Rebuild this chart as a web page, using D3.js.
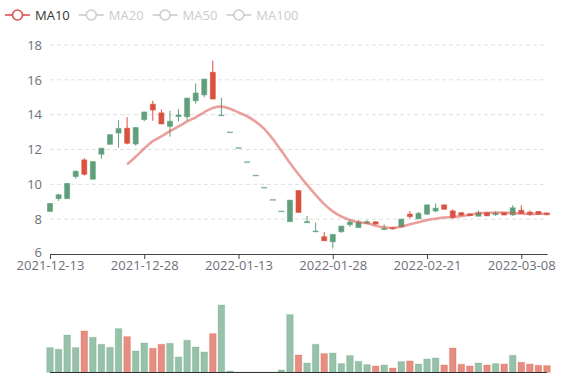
<!DOCTYPE html>
<html><head><meta charset="utf-8">
<script src="https://cdn.jsdelivr.net/npm/d3@7/dist/d3.min.js"></script>
<style>body{margin:0;background:#fff} svg{display:block;font-family:'Open Sans',sans-serif}</style>
</head><body><svg id="c" width="577" height="380"></svg>
<script>
const dates = [
  "2021-12-13","2021-12-14","2021-12-15","2021-12-16","2021-12-17","2021-12-20","2021-12-21","2021-12-22","2021-12-23","2021-12-24","2021-12-27","2021-12-28",
  "2021-12-29","2021-12-30","2021-12-31","2022-01-04","2022-01-05","2022-01-06","2022-01-07","2022-01-10","2022-01-11","2022-01-12","2022-01-13",
  "2022-01-14","2022-01-17","2022-01-18","2022-01-19","2022-01-20","2022-01-21","2022-01-24","2022-01-25","2022-01-26","2022-01-27","2022-01-28",
  "2022-02-07","2022-02-08","2022-02-09","2022-02-10","2022-02-11","2022-02-14","2022-02-15","2022-02-16","2022-02-17","2022-02-18","2022-02-21",
  "2022-02-22","2022-02-23","2022-02-24","2022-02-25","2022-02-28","2022-03-01","2022-03-02","2022-03-03","2022-03-04","2022-03-07","2022-03-08",
  "2022-03-09","2022-03-10","2022-03-11"
];
// [open, close, low, high]
const candles = [
  [8.45,8.90,8.40,8.92],[9.18,9.40,9.05,9.45],[9.18,10.05,9.15,10.06],[10.45,10.75,10.32,10.80],
  [11.40,10.58,10.50,11.50],[10.30,11.30,10.27,11.33],[11.73,12.07,11.47,12.10],[12.30,12.85,12.28,12.88],
  [12.95,13.20,12.10,13.68],[13.22,12.36,12.30,13.85],[12.32,13.26,12.22,13.28],[13.72,14.15,13.62,14.18],
  [14.60,14.27,13.65,14.80],[14.10,13.47,13.45,14.30],[13.33,13.62,12.74,14.23],[13.90,13.98,13.62,14.32],
  [13.88,14.95,13.65,14.97],[14.80,15.24,14.63,15.80],[15.14,16.04,15.00,16.06],[16.43,14.90,14.88,17.10],
  [13.94,13.97,13.93,14.97],[13.00,13.00,13.00,13.00],[12.10,12.10,12.10,12.10],[11.29,11.29,11.29,11.29],
  [10.52,10.52,10.52,10.52],[9.82,9.82,9.82,9.82],[9.12,9.12,9.12,9.12],[8.46,8.46,8.46,8.46],
  [7.86,9.09,7.85,9.10],[9.64,8.39,8.38,9.65],[7.80,7.86,7.79,8.19],[7.28,7.32,7.26,7.81],
  [6.99,6.76,6.76,7.27],[6.70,7.12,6.32,7.13],[7.28,7.60,7.22,7.61],[7.68,7.83,7.56,7.98],
  [7.52,7.83,7.52,7.94],[7.77,7.85,7.73,7.94],[7.85,7.72,7.68,7.86],[7.41,7.47,7.37,7.70],
  [7.51,7.45,7.41,7.56],[7.56,8.00,7.55,8.01],[8.29,8.15,8.04,8.47],[8.02,8.33,8.02,8.41],
  [8.29,8.82,8.23,8.83],[8.47,8.63,8.40,8.90],[8.82,8.57,8.56,8.83],[8.47,8.10,8.00,8.57],
  [8.37,8.23,8.18,8.42],[8.30,8.21,8.16,8.34],[8.17,8.37,8.16,8.50],[8.37,8.19,8.18,8.38],
  [8.26,8.35,8.19,8.44],[8.37,8.24,8.23,8.38],[8.25,8.65,8.19,8.80],[8.51,8.32,8.31,8.80],
  [8.40,8.28,8.19,8.51],[8.44,8.28,8.27,8.45],[8.35,8.26,8.22,8.38]
];
const volumes = [
  2470,2300,3730,2470,4130,3500,2800,2500,4370,3570,2130,2930,2400,2800,2900,1530,3200,2530,2030,3870,
  6730,130,30,30,30,30,30,230,5770,1730,930,2800,1870,1930,870,1670,1100,770,630,730,
  430,1070,1130,830,1330,1430,730,2430,800,630,930,730,870,830,1700,1000,830,700,670
];
const yTicks = [6,8,10,12,14,16,18];
const xTickLabels = ["2021-12-13","2021-12-28","2022-01-13","2022-01-28","2022-02-21","2022-03-08"];
const legendNames = ["MA10","MA20","MA50","MA100"];
const activeSeries = ["MA10"];
const maWindow = 10;

const upColor = "#5f9f7b", downColor = "#d9513f", maColor = "#d9534f";
const svg = d3.select("#c");
const x = d3.scalePoint().domain(dates).range([50, 547]);
const y = d3.scaleLinear().domain([6, 18]).range([254, 45]);
const yv = d3.scaleLinear().domain([0, d3.max(volumes)]).range([372.3, 305]);
const colorOf = i => candles[i][1] >= candles[i][0] ? upColor : downColor;

// grid lines
svg.append("g").selectAll("line").data(yTicks.filter(t => t !== 6)).join("line")
  .attr("x1", 50).attr("x2", 547).attr("y1", d => y(d)).attr("y2", d => y(d))
  .attr("stroke", "#e0e0e0").attr("stroke-dasharray", "4,3");

// y axis labels
const ya = svg.append("g").attr("transform", "translate(50,0)")
  .call(d3.axisLeft(y).tickValues(yTicks).tickSize(0).tickPadding(8));
ya.select(".domain").remove();
ya.selectAll("text").attr("fill", "#6e7079").style("font-size", "13px").style("font-family", "'Open Sans',sans-serif");
ya.selectAll(".tick").filter(d => d === 6).select("text").attr("dy", "0.2em");

// x axis
const xa = svg.append("g").attr("transform", "translate(0,254)")
  .call(d3.axisBottom(x).tickValues(xTickLabels).tickSize(5).tickSizeOuter(0).tickPadding(2));
xa.select(".domain").attr("stroke", "#444");
xa.selectAll(".tick line").attr("stroke", "#444");
xa.selectAll("text").attr("fill", "#6e7079").style("font-size", "13px").style("font-family", "'Open Sans',sans-serif");

// candles
const cg = svg.append("g");
candles.forEach((c, i) => {
  const [o, cl, lo, hi] = c;
  const cx = x(dates[i]), col = colorOf(i);
  cg.append("line").attr("x1", cx).attr("x2", cx).attr("y1", y(hi)).attr("y2", y(lo))
    .attr("stroke", col).attr("stroke-width", 1);
  const top = y(Math.max(o, cl)), bot = y(Math.min(o, cl));
  cg.append("rect").attr("x", cx - 2.5).attr("width", 5)
    .attr("y", top).attr("height", Math.max(0.5, bot - top))
    .attr("fill", col).attr("stroke", col).attr("stroke-opacity", 0.6).attr("stroke-width", 1);
});

// MA10
const closes = candles.map(c => c[1]);
const ma = closes.map((v, i) => i < maWindow - 1 ? null : d3.mean(closes.slice(i - maWindow + 1, i + 1)));
svg.append("path").datum(ma.map((v, i) => [i, v]))
  .attr("d", d3.line().defined(d => d[1] != null).x(d => x(dates[d[0]])).y(d => y(d[1])).curve(d3.curveCatmullRom.alpha(0.5)))
  .attr("fill", "none").attr("stroke", maColor).attr("stroke-opacity", 0.55).attr("stroke-width", 2.6);

// volumes
const vg = svg.append("g");
volumes.forEach((v, i) => {
  const cx = x(dates[i]), col = colorOf(i);
  vg.append("rect").attr("x", cx - 3.3).attr("width", 6.6)
    .attr("y", yv(v)).attr("height", yv(0) - yv(v))
    .attr("fill", col).attr("fill-opacity", 0.65)
    .attr("stroke", col).attr("stroke-opacity", 0.25).attr("stroke-width", 1);
});
svg.append("line").attr("x1", 50).attr("x2", 547).attr("y1", 372.5).attr("y2", 372.5)
  .attr("stroke", "#333").attr("stroke-width", 1);

// legend
let lx = 5;
legendNames.forEach(name => {
  const on = activeSeries.includes(name);
  const col = on ? maColor : "#ccc";
  const g = svg.append("g").attr("transform", `translate(${lx},15)`);
  g.append("line").attr("x1", 0).attr("x2", 25).attr("y1", 0).attr("y2", 0).attr("stroke", col).attr("stroke-width", 1.6);
  g.append("circle").attr("cx", 12.5).attr("cy", 0).attr("r", 5).attr("fill", "#fff").attr("stroke", col).attr("stroke-width", 1.6);
  const t = g.append("text").attr("x", 30).attr("y", 0).attr("dy", "0.35em").text(name)
    .attr("fill", on ? "#333" : "#ccc").style("font-size", "13px");
  lx += 30 + t.node().getComputedTextLength() + 9;
});
</script></body></html>
